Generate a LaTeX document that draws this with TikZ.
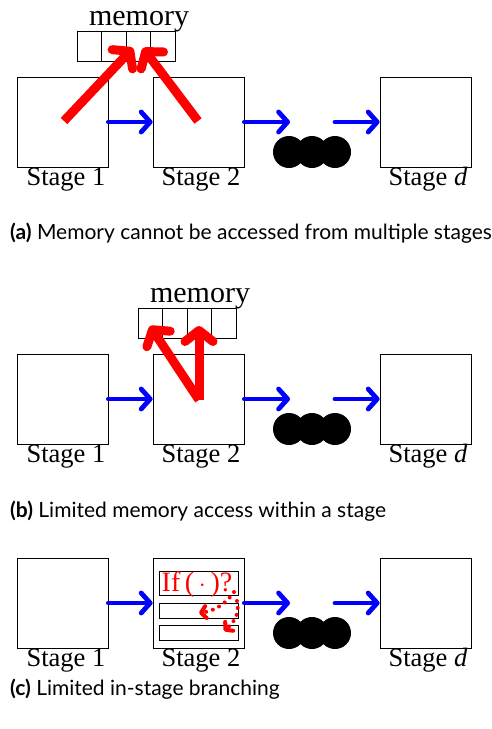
\documentclass[tikz,border=0pt]{standalone}
\usepackage{fontspec}
\setmainfont{Liberation Serif}
\newfontfamily\capfont{Lato}
\usetikzlibrary{arrows.meta}
\tikzset{
  stagebox/.style={draw, line width=0.8pt, minimum width=91pt, minimum height=90pt, inner sep=0pt},
  stagelabel/.style={font=\fontsize{26.5}{26.5}\selectfont, inner sep=0pt, anchor=base},
  cell/.style={draw, line width=0.8pt, minimum width=24.5pt, minimum height=30pt, inner sep=0pt},
  memlabel/.style={font=\fontsize{30}{30}\selectfont, inner sep=0pt, anchor=base},
  flow/.style={blue, line width=4.8pt, line cap=round, -{Straight Barb[length=9pt, width=20pt, round]}},
  access/.style={red, line width=9pt, -{Straight Barb[length=11pt, width=28pt, round]}},
  dot/.style={circle, fill=black, minimum size=32pt, inner sep=0pt},
  caption/.style={font=\capfont\fontsize{21}{21}\selectfont, anchor=base west, inner sep=0pt},
  slot/.style={draw, line width=0.8pt, minimum width=79pt, inner sep=0pt},
  branch/.style={red, line width=4pt, line cap=round, dash pattern=on 0pt off 7pt,
                 -{Straight Barb[length=5pt, width=12pt, round]}},
}
\begin{document}
\begin{tikzpicture}[x=1pt, y=1pt]
\useasboundingbox (0,0) rectangle (491,-729);

% ---------- (a) ----------
\node[stagebox] (a1) at (62.5,-122) {};
\node[stagebox] (a2) at (198.5,-122) {};
\node[stagebox] (ad) at (425.5,-122) {};
\node[stagelabel] (a1l) at (66,-185) {Stage 1};
\node[stagelabel] (a2l) at (201,-185) {Stage 2};
\node[stagelabel] (adl) at (428,-185) {Stage \textit{d}};
\foreach \i/\x in {1/89.25,2/113.75,3/138.25,4/162.75}
  \node[cell] (am\i) at (\x,-46) {};
\node[memlabel] (amem) at (139,-25) {memory};
\node[dot] (ad1) at (289,-152) {};
\node[dot] (ad2) at (312,-152) {};
\node[dot] (ad3) at (335,-152) {};
\coordinate (af1) at (290,-122);
\coordinate (af2) at (335,-122);
\draw[flow] (a1.east) -- (a2.west);
\draw[flow] (a2.east) -- (af1);
\draw[flow] (af2) -- (ad.west);
\coordinate (ar1) at (64,-121);
\coordinate (ar2) at (198,-121);
\coordinate (at1) at (133,-48);
\coordinate (at2) at (143,-48);
\draw[access] (ar1) -- (at1);
\draw[access] (ar2) -- (at2);

% ---------- (b) ----------
\node[stagebox] (b1) at (62.5,-399) {};
\node[stagebox] (b2) at (198.5,-399) {};
\node[stagebox] (bd) at (425.5,-399) {};
\node[stagelabel] (b1l) at (66,-462) {Stage 1};
\node[stagelabel] (b2l) at (201,-462) {Stage 2};
\node[stagelabel] (bdl) at (428,-462) {Stage \textit{d}};
\foreach \i/\x in {1/150.25,2/174.75,3/199.25,4/223.75}
  \node[cell] (bm\i) at (\x,-323) {};
\node[memlabel] (bmem) at (200,-302) {memory};
\node[dot] (bd1) at (289,-429) {};
\node[dot] (bd2) at (312,-429) {};
\node[dot] (bd3) at (335,-429) {};
\coordinate (bf1) at (290,-399);
\coordinate (bf2) at (335,-399);
\draw[flow] (b1.east) -- (b2.west);
\draw[flow] (b2.east) -- (bf1);
\draw[flow] (bf2) -- (bd.west);
\coordinate (br) at (199,-400);
\coordinate (bt1) at (150,-326);
\coordinate (bt2) at (199,-326);
\draw[access] (br) -- (bt1);
\draw[access] (br) -- (bt2);

% ---------- (c) ----------
\node[stagebox] (c1) at (62.5,-603) {};
\node[stagebox] (c2) at (198.5,-603) {};
\node[stagebox] (cd) at (425.5,-603) {};
\node[stagelabel] (c1l) at (66,-666) {Stage 1};
\node[stagelabel] (c2l) at (201,-666) {Stage 2};
\node[stagelabel] (cdl) at (428,-666) {Stage \textit{d}};
\node[slot, minimum height=24pt] (cs1) at (198.5,-583) {};
\node[slot, minimum height=15pt] (cs2) at (198.5,-610.5) {};
\node[slot, minimum height=15pt] (cs3) at (198.5,-632.5) {};
\node[red, font=\fontsize{28}{28}\selectfont, inner sep=0pt, anchor=base] (cif) at (197,-591) {If\,(\,$\cdot$\,)?};
\node[dot] (cd1) at (289,-633) {};
\node[dot] (cd2) at (312,-633) {};
\node[dot] (cd3) at (335,-633) {};
\coordinate (cf1) at (290,-603);
\coordinate (cf2) at (335,-603);
\draw[flow] (c1.east) -- (c2.west);
\draw[flow] (c2.east) -- (cf1);
\draw[flow] (cf2) -- (cd.west);
% dotted branch arrows
\coordinate (cb1) at (234,-592);
\coordinate (cb2) at (199,-613);
\coordinate (cb3) at (237,-601);
\coordinate (cb4) at (224,-631);
\draw[branch] (cb1) .. controls (226,-604) and (214,-611) .. (cb2);
\draw[branch] (cb3) .. controls (240,-614) and (234,-622) .. (cb4);

% ---------- captions ----------
\node[caption] (capa) at (10,-239) {\textbf{(a)} Memory cannot be accessed from multiple stages};
\node[caption] (capb) at (10,-517) {\textbf{(b)} Limited memory access within a stage};
\node[caption] (capc) at (10,-695) {\textbf{(c)} Limited in-stage branching};
\end{tikzpicture}
\end{document}
